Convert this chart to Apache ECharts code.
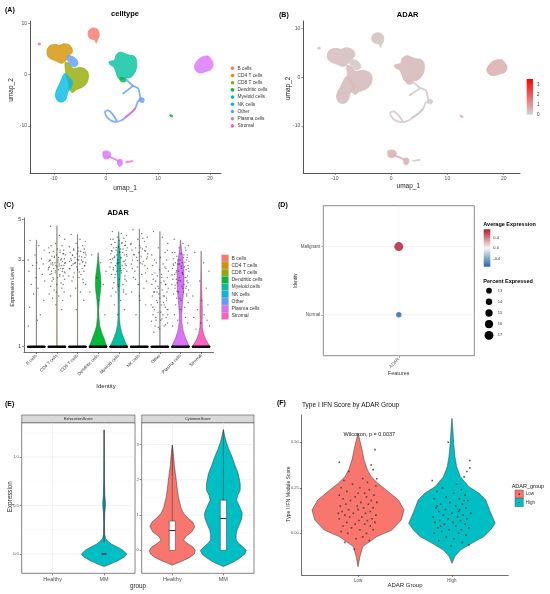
<!DOCTYPE html>
<html><head><meta charset="utf-8">
<script src="https://cdn.jsdelivr.net/npm/echarts@6/dist/echarts.min.js"></script>
<style>html,body{margin:0;padding:0;background:#fff}#c{width:550px;height:594px}</style>
</head><body><div id="c"></div>
<script>
const FONT = '"Liberation Sans", Arial, Helvetica, sans-serif';

// ---------------- DATA ----------------
const cellTypes = ['B cells','CD4 T cells','CD8 T cells','Dendritic cells','Myeloid cells','NK cells','Other','Plasma cells','Stromal'];
const cellColors = ['#F8766D','#D39200','#93AA00','#00BA38','#00C19F','#00B9E3','#619CFF','#DB72FB','#FF61C3'];
const umapXTicks = [-10, 0, 10, 20];
const umapYTicks = [-10, 0, 10];

// UMAP cluster outlines: [cellTypeIndex, [[umap_1, umap_2], ...]]
const umapBlobs = [
  [0, [[-3.4,8.3],[-3.0,8.9],[-2.3,9.1],[-1.6,8.8],[-1.3,8.0],[-1.4,7.2],[-1.7,6.6],[-1.9,6.1],[-2.1,6.7],[-2.7,6.9],[-3.3,7.3]]],
  [0, [[-13.0,5.8],[-12.6,5.8],[-12.6,6.1],[-13.0,6.1]]],
  [1, [[-11.3,4.8],[-10.8,5.6],[-9.8,5.9],[-8.9,5.7],[-8.2,6.0],[-7.3,5.9],[-6.6,5.3],[-6.5,4.3],[-7.2,3.6],[-7.8,2.6],[-8.6,2.2],[-9.5,2.6],[-10.5,3.0],[-11.2,3.6]]],
  [2, [[-7.8,2.4],[-7.0,2.0],[-6.3,1.2],[-5.2,1.4],[-4.2,1.2],[-3.5,0.5],[-3.4,-0.8],[-3.8,-1.8],[-4.6,-2.5],[-5.6,-2.9],[-6.4,-3.5],[-7.0,-2.9],[-7.2,-1.6],[-7.6,-0.4],[-7.8,0.8]]],
  [5, [[-7.9,0.2],[-7.0,-0.6],[-6.4,-1.6],[-6.7,-2.6],[-7.3,-3.4],[-7.6,-4.6],[-8.2,-5.3],[-9.2,-5.2],[-9.7,-4.2],[-9.5,-3.0],[-9.0,-2.0],[-8.6,-1.0]]],
  [6, [[-7.4,3.6],[-6.6,3.6],[-5.6,2.9],[-5.4,2.0],[-6.0,1.5],[-6.8,1.8],[-7.3,2.6]]],
  [4, [[0.6,2.5],[1.6,2.8],[2.0,3.9],[2.8,4.4],[3.6,4.1],[4.4,3.8],[5.4,3.6],[5.9,2.6],[5.8,1.0],[5.3,0.0],[4.7,-0.6],[3.7,-0.7],[3.0,-1.0],[2.3,-0.6],[1.9,0.5],[1.5,1.5],[0.8,1.9]]],
  [3, [[2.7,-0.6],[3.8,-0.8],[3.7,-1.4],[2.8,-1.3]]],
  [3, [[12.3,-7.8],[12.8,-8.0],[12.7,-8.3],[12.2,-8.0]]],
  [6, [[6.5,-4.6],[7.3,-4.7],[7.2,-5.4],[6.5,-5.3]]],
  [7, [[17.2,2.2],[17.8,3.0],[18.6,3.5],[19.6,3.6],[20.2,3.0],[20.6,2.0],[20.2,1.0],[19.2,0.6],[18.2,0.3],[17.4,0.6],[17.0,1.4]]],
  [7, [[-0.5,-15.0],[0.6,-15.0],[0.9,-15.7],[0.4,-16.4],[-0.4,-16.3],[-0.6,-15.6]]],
  [7, [[2.3,-16.7],[3.0,-16.6],[3.1,-17.6],[2.5,-17.9],[2.2,-17.3]]]
];
// UMAP thin trajectories: [cellTypeIndex, [[umap_1, umap_2], ...]]
const umapPaths = [
  [6, [[3.8,-0.8],[4.3,-1.4],[5.2,-2.2],[6.2,-2.7],[6.5,-4.0],[6.6,-4.7],[6.1,-5.3],[5.6,-6.6],[4.3,-7.9],[3.0,-8.9],[1.7,-9.2],[0.45,-8.6],[-0.2,-7.3],[0.45,-7.0],[1.4,-7.9],[2.05,-9.0]]],
  [6, [[5.2,-2.2],[3.3,-3.7]]],
  [8, [[5.6,-6.6],[5.0,-7.3],[4.3,-7.9],[3.8,-8.2]]],
  [7, [[0.5,-16.0],[1.5,-16.4],[2.5,-16.9]]],
  [8, [[3.9,-17.1],[5.1,-16.9]]]
];
// panel B: average visible ADAR level per cluster
const adarClusterMean = [0.28, 0.34, 0.38, 0.45, 0.42, 0.38, 0.15, 0.55, 0.22];
const adarScaleTicks = [0, 1, 2, 3];
const adarScaleMax = 3.6;

// panel C: violin profiles [expression, half width (fraction of category)]
const cViolins = [
  [[1,0.43],[1.008,0.03],[1.02,0.008],[3.87,0.003]],
  [[1,0.43],[1.008,0.03],[1.02,0.008],[4.63,0.003]],
  [[1,0.43],[1.008,0.03],[1.02,0.008],[4.16,0.003]],
  [[1,0.44],[1.05,0.36],[1.11,0.29],[1.2,0.17],[1.3,0.08],[1.45,0.04],[1.6,0.03],[1.8,0.06],[2.0,0.11],[2.2,0.14],[2.45,0.12],[2.7,0.07],[3.0,0.03],[3.29,0.004]],
  [[1,0.44],[1.05,0.34],[1.12,0.24],[1.2,0.14],[1.3,0.07],[1.45,0.035],[1.7,0.03],[2.0,0.04],[2.4,0.07],[2.8,0.09],[3.2,0.07],[3.6,0.04],[4.0,0.015],[4.3,0.003]],
  [[1,0.43],[1.008,0.03],[1.02,0.008],[4.45,0.003]],
  [[1,0.43],[1.008,0.03],[1.02,0.008],[4.3,0.003]],
  [[1,0.44],[1.05,0.35],[1.12,0.24],[1.22,0.13],[1.35,0.07],[1.5,0.06],[1.7,0.09],[1.9,0.13],[2.1,0.16],[2.4,0.17],[2.7,0.16],[3.0,0.12],[3.3,0.07],[3.6,0.03],[3.87,0.004]],
  [[1,0.44],[1.05,0.32],[1.1,0.22],[1.18,0.12],[1.28,0.06],[1.4,0.05],[1.55,0.06],[1.75,0.05],[2.0,0.035],[2.4,0.02],[2.8,0.01],[3.36,0.003]]
];
const cYTicks = [1, 3, 5];
// jitter offsets (fraction of category) and expressed values per cell type
const cJitterOffsets = [-0.31,0.12,0.38,-0.07,0.25,-0.4,0.02,0.33,-0.18,0.15,-0.36,0.29,-0.02,0.41,-0.25,0.08,-0.13,0.36,-0.33,0.19,0.05,-0.39,0.27,-0.1,0.4,-0.22,0.11,-0.29,0.34,-0.05,0.22,-0.37,0.0,0.31,-0.16,0.17,-0.42,0.07,0.26,-0.27,0.39,-0.09,0.14,-0.34,0.3,-0.19,0.03,0.37,-0.24,0.2,-0.01,-0.3,0.24,-0.14,0.35,-0.38,0.09,-0.21,0.28,-0.06,
  -0.28,0.16,0.32,-0.12,0.21,-0.35,0.04,0.38,-0.2,0.1,-0.41,0.27,-0.08,0.36,-0.26,0.13,-0.17,0.3,-0.03,0.23];
const cJitterValues = [
  [3.85,3.6,3.4,3.2,3.05,3.0,2.9,2.85,2.8,2.7,2.6,2.5,2.4,2.3,2.2,2.1,1.95,1.8,1.65,1.5,1.4,1.3],
  [4.6,4.1,3.9,3.7,3.6,3.5,3.45,3.4,3.35,3.3,3.3,3.25,3.2,3.2,3.15,3.1,3.1,3.05,3.0,3.0,3.0,2.95,2.95,2.9,2.9,2.9,2.85,2.85,2.8,2.8,2.8,2.75,2.75,2.7,2.7,2.7,2.65,2.65,2.6,2.6,2.55,2.55,2.5,2.5,2.45,2.4,2.4,2.35,2.3,2.25,2.2,2.15,2.1,2.05,2.0,1.95,1.9,1.85,1.8,1.7,
   3.6,3.4,3.25,3.15,3.05,2.98,2.92,2.88,2.82,2.78,2.72,2.68,2.62,2.58,2.52,2.45,2.35,2.2,2.0,1.6],
  [4.15,3.9,3.8,3.7,3.6,3.55,3.5,3.45,3.4,3.35,3.3,3.3,3.25,3.2,3.2,3.15,3.1,3.1,3.05,3.0,3.0,2.95,2.95,2.9,2.9,2.85,2.85,2.8,2.8,2.75,2.7,2.7,2.65,2.6,2.55,2.5,2.45,2.4,2.35,2.3,2.2,2.1,2.0,1.9,1.8,
   3.45,3.35,3.28,3.18,3.12,3.02,2.98,2.92,2.88,2.78,2.68,2.58,2.42,2.25,1.6],
  [3.2,2.9,2.6,2.4,2.2,2.0,1.8,1.5],
  [4.3,4.2,4.1,4.0,3.95,3.9,3.85,3.8,3.75,3.7,3.65,3.6,3.55,3.5,3.5,3.45,3.4,3.4,3.35,3.3,3.3,3.25,3.2,3.2,3.15,3.1,3.1,3.05,3.0,3.0,2.95,2.9,2.9,2.85,2.8,2.8,2.75,2.7,2.7,2.65,2.6,2.6,2.55,2.5,2.45,2.4,2.35,2.3,2.25,2.2,2.15,2.1,2.05,2.0,1.95,1.9,1.8,1.7,1.6,1.5,
   3.9,3.75,3.62,3.52,3.45,3.38,3.32,3.22,3.15,3.08,3.02,2.95,2.88,2.8,2.72,2.62,2.5,2.35,2.2,2.0],
  [4.4,4.2,4.0,3.9,3.8,3.7,3.6,3.55,3.5,3.45,3.4,3.35,3.3,3.25,3.2,3.15,3.1,3.05,3.0,2.95,2.9,2.85,2.8,2.75,2.7,2.6,2.5,2.4,2.3,2.2,2.1,2.0,1.9,1.7,1.5,
   3.95,3.65,3.5,3.38,3.22,3.12,2.98,2.85,2.7,2.55,2.35,1.8],
  [4.3,4.0,3.7,3.5,3.3,3.2,3.1,3.0,2.9,2.85,2.8,2.7,2.65,2.6,2.55,2.5,2.45,2.4,2.35,2.3,2.25,2.2,2.2,2.15,2.1,2.1,2.05,2.0,2.0,1.95,1.9,1.9,1.85,1.8,1.8,1.75,1.7,1.7,1.65,1.6,1.6,1.55,1.5,1.5,1.45,1.4,1.4,1.35,1.3,1.3,1.25,1.2,2.75,2.0,1.6,
   2.5,2.4,2.3,2.2,2.1,2.0,1.9,1.85,1.75,1.7,1.65,1.55,1.5,1.45,1.42,1.38,1.32,1.28,3.4,3.0],
  [3.9,3.7,3.6,3.5,3.4,3.3,3.25,3.2,3.15,3.1,3.05,3.0,3.0,2.95,2.9,2.9,2.85,2.8,2.8,2.75,2.7,2.7,2.65,2.6,2.6,2.55,2.5,2.5,2.45,2.4,2.4,2.35,2.3,2.3,2.25,2.2,2.2,2.15,2.1,2.1,2.05,2.0,2.0,1.95,1.9,1.85,1.8,1.75,1.7,1.65,1.6,1.5,1.45,1.4,1.35,1.3,2.55,2.35,2.15,2.85,
   3.3,3.2,3.1,3.0,2.92,2.85,2.78,2.7,2.62,2.55,2.48,2.4,2.32,2.25,2.18,2.1,2.02,1.95,1.85,3.5],
  [3.3,2.9,2.6,2.3,2.1,1.9,1.8,1.7,1.6,1.5,1.45,1.4,1.35,1.3,1.25]
];

// panel D
const dotIdentity = ['Normal', 'Malignant'];
const dotFeature = ['ADAR'];
const dotAvgExpr = [-0.707, 0.707];
const dotPctExpr = [12.6, 17.2];
const avgExprTicks = [0.4, 0.0, -0.4];
const pctLegendBreaks = [13, 14, 15, 16, 17];

// panel E
const eGroups = ['Healthy', 'MM'];
const eFacets = ['ExhaustionScore', 'CytotoxicScore'];
const eGroupColors = ['#F8766D', '#00BFC4'];
const e1Ticks = [0, 0.5, 1.0];
const e2Ticks = [0, 1, 2, 3];
const exhaustionMM = [[-0.13,0],[-0.11,0.1],[-0.07,0.27],[-0.03,0.4],[0,0.44],[0.04,0.36],[0.076,0.24],[0.1,0.15],[0.127,0.08],[0.16,0.03],[0.2,0.012],[0.3,0.008],[0.42,0.012],[0.48,0.025],[0.53,0.028],[0.6,0.015],[0.7,0.01],[0.8,0.006],[1.0,0.004],[1.28,0]];
const cytotoxicHealthy = [[-0.42,0],[-0.38,0.06],[-0.3,0.2],[-0.2,0.34],[-0.1,0.43],[0,0.45],[0.1,0.4],[0.2,0.29],[0.29,0.22],[0.4,0.27],[0.52,0.38],[0.67,0.44],[0.8,0.4],[0.92,0.3],[1.05,0.22],[1.2,0.17],[1.33,0.15],[1.5,0.12],[1.7,0.1],[1.95,0.08],[2.18,0.06],[2.4,0.04],[2.65,0.027],[2.85,0.012],[2.98,0]];
const cytotoxicMM = [[-0.46,0],[-0.42,0.06],[-0.33,0.2],[-0.2,0.34],[-0.1,0.42],[0,0.45],[0.1,0.38],[0.2,0.3],[0.29,0.25],[0.45,0.25],[0.58,0.27],[0.75,0.32],[0.9,0.36],[1.05,0.37],[1.2,0.33],[1.42,0.26],[1.55,0.28],[1.7,0.33],[1.9,0.33],[2.18,0.29],[2.4,0.23],[2.65,0.17],[2.85,0.11],[3.05,0.06],[3.25,0.025],[3.42,0]];
// boxes: [group, q1, median, q3, upper whisker, outlier min, outlier max]
const exhaustionBoxes = [[1, 0, 0, 0, 0, 0.12, 1.28]];
const cytotoxicBoxes = [[0, 0, 0.56, 0.83, 2.08, 2.1, 2.98], [1, 0, 0.9, 1.42, 3.42, 3.42, 3.42]];

// panel F
const fGroups = ['Low', 'High'];
const fTicks = [0, 0.25, 0.5];
const ifnLowViolin = [[-0.183,0],[-0.128,0.02],[-0.073,0.05],[-0.018,0.2],[0.018,0.36],[0.073,0.46],[0.128,0.49],[0.183,0.43],[0.238,0.3],[0.275,0.21],[0.311,0.14],[0.348,0.1],[0.403,0.064],[0.458,0.043],[0.513,0.018],[0.55,0]];
const ifnHighViolin = [[-0.165,0],[-0.128,0.03],[-0.092,0.09],[-0.055,0.21],[-0.018,0.34],[0.018,0.41],[0.055,0.46],[0.092,0.43],[0.128,0.4],[0.183,0.36],[0.22,0.29],[0.256,0.18],[0.311,0.09],[0.366,0.05],[0.421,0.032],[0.495,0.018],[0.568,0.01],[0.632,0]];
const ifnLowPoints = [[-0.2,0.39],[0.18,0.46],[0.14,0.375],[0.16,0.35],[-0.04,-0.088],[-0.1,0.34],[0.05,0.3],[-0.15,0.29],[0.1,0.28],[-0.06,0.27],[0.19,0.26],[-0.18,0.25],[0.02,0.25],[0.12,0.24],[-0.12,0.23],[0.07,0.22],[-0.2,0.21],[0.17,0.21],[-0.03,0.2],[0.09,0.2],[-0.16,0.19],[0.14,0.18],[-0.08,0.18],[0.03,0.17],[0.2,0.17],[-0.13,0.16],[0.11,0.16],[-0.01,0.15],[-0.19,0.15],[0.06,0.14],[0.16,0.14],[-0.1,0.13],[0.0,0.13],[0.13,0.12],[-0.17,0.12],[0.08,0.11],[-0.05,0.11],[0.19,0.1],[-0.14,0.1],[0.04,0.09],[-0.09,0.09],[0.15,0.08],[-0.2,0.08],[0.01,0.07],[0.1,0.07],[-0.12,0.06],[0.18,0.06],[-0.03,0.05],[0.07,0.05],[-0.16,0.04],[0.13,0.04],[-0.07,0.03],[0.02,0.02],[0.16,0.02],[-0.18,0.01],[0.09,0.0],[-0.11,0.0],[0.05,-0.02],[-0.02,-0.03],[0.12,-0.04],[-0.14,-0.05],[0.2,0.3],[-0.21,0.11],[0.0,0.22]];
const ifnHighPoints = [[-0.04,0.5],[0.19,0.4],[0.16,0.34],[0.13,0.31],[0.19,0.36],[0.18,-0.064],[-0.21,0.29],[0.05,0.27],[-0.1,0.25],[0.1,0.24],[-0.16,0.23],[0.02,0.22],[0.14,0.21],[-0.06,0.2],[0.08,0.19],[-0.19,0.19],[0.17,0.18],[-0.02,0.17],[-0.12,0.16],[0.11,0.16],[0.04,0.15],[-0.17,0.14],[0.15,0.14],[-0.07,0.13],[0.07,0.12],[-0.14,0.12],[0.2,0.11],[0.0,0.11],[-0.09,0.1],[0.12,0.1],[-0.2,0.09],[0.06,0.09],[-0.04,0.08],[0.16,0.08],[-0.13,0.07],[0.09,0.07],[0.01,0.06],[-0.18,0.06],[0.14,0.05],[-0.08,0.05],[0.04,0.04],[-0.15,0.03],[0.18,0.03],[-0.03,0.02],[0.1,0.02],[-0.11,0.01],[0.07,0.0],[-0.19,0.0],[0.15,-0.01],[-0.06,-0.02],[0.02,-0.03],[-0.14,-0.04],[0.11,-0.05],[-0.01,-0.07],[0.08,0.13],[-0.12,0.04],[0.13,0.18],[-0.16,0.15]];
const wilcoxLabel = 'Wilcoxon, p = 0.0037';

// ---------------- HELPERS ----------------
function hex2rgb(h){return [parseInt(h.slice(1,3),16),parseInt(h.slice(3,5),16),parseInt(h.slice(5,7),16)];}
function mix(a,b,t){const A=hex2rgb(a),B=hex2rgb(b);return 'rgb('+A.map((v,i)=>Math.round(v+(B[i]-v)*t)).join(',')+')';}
function adarColor(v){return mix('#d3d3d3','#ff0000',Math.max(0,Math.min(1,v/adarScaleMax)));}
function rdbu(v){const t=(v+0.707)/1.414; return t<0.5?mix('#2166ac','#f7f7f7',t*2):mix('#f7f7f7','#b2182b',(t-0.5)*2);}
function pctSize(p){return 5.4+(p-12.6)*0.78;}

function valAxis(grid, min, max, ticks, fmt, o){
  o = o || {};
  return {type:'value', gridIndex:grid, min, max,
    axisLine:{show:o.line!==false, onZero:false, lineStyle:{color:o.lineColor||'#333', width:o.lineWidth||0.7}},
    axisTick:{show:true, customValues:ticks, length:2, lineStyle:{color:o.lineColor||'#333', width:0.6}},
    axisLabel:{show:true, customValues:ticks, formatter:fmt, fontSize:o.fs||5, color:o.labelColor||'#4d4d4d', margin:o.margin||3, rotate:o.rotate||0, fontFamily:FONT},
    splitLine:{show:false}};
}
function gridLines(ai, vals, dir, color, w){
  return {type:'custom', xAxisIndex:ai, yAxisIndex:ai, silent:true, z:1, data:vals.map(v=>[v]),
    renderItem:(params, api)=>{
      const cs = params.coordSys, v = vals[params.dataIndex];
      if (dir==='h'){ const y = api.coord([0, v])[1]; return {type:'line', shape:{x1:cs.x,y1:y,x2:cs.x+cs.width,y2:y}, style:{stroke:color,lineWidth:w}}; }
      const x = api.coord([v, 0])[0]; return {type:'line', shape:{x1:x,y1:cs.y,x2:x,y2:cs.y+cs.height}, style:{stroke:color,lineWidth:w}};
    }};
}
function violins(ai, profiles, centers, fills, tf, stroke, lw){
  return {type:'custom', xAxisIndex:ai, yAxisIndex:ai, silent:true, z:2, data:profiles.map((p,i)=>[centers[i], 0]),
    renderItem:(params, api)=>{
      const i = params.dataIndex, c = centers[i], prof = profiles[i];
      const L = prof.map(([v,w])=>api.coord([c-w, tf(v)]));
      const R = prof.map(([v,w])=>api.coord([c+w, tf(v)])).reverse();
      return {type:'polygon', shape:{points:L.concat(R)}, style:{fill:fills[i], stroke:stroke, lineWidth:lw}};
    }};
}
function boxes(ai, list, hw){
  return {type:'custom', xAxisIndex:ai, yAxisIndex:ai, silent:true, z:3, data:list.map(b=>[b[0], b[2]]),
    renderItem:(params, api)=>{
      const [c,q1,med,q3,wh,omin,omax] = list[params.dataIndex];
      const p1 = api.coord([c-hw, q3]), p2 = api.coord([c+hw, q1]);
      const m1 = api.coord([c-hw, med]), m2 = api.coord([c+hw, med]);
      const t = api.coord([c, q3]), w = api.coord([c, wh]), o1 = api.coord([c, omin]), o2 = api.coord([c, omax]);
      const st = {stroke:'#333', lineWidth:0.5};
      return {type:'group', children:[
        {type:'line', shape:{x1:t[0],y1:t[1],x2:w[0],y2:w[1]}, style:st},
        {type:'line', shape:{x1:o1[0],y1:o1[1],x2:o2[0],y2:o2[1]}, style:{stroke:'#333', lineWidth:0.7}},
        {type:'rect', shape:{x:p1[0], y:p1[1], width:p2[0]-p1[0], height:Math.max(0.01,p2[1]-p1[1])}, style:{fill:'#fff', stroke:'#333', lineWidth:0.5}},
        {type:'line', shape:{x1:m1[0],y1:m1[1],x2:m2[0],y2:m2[1]}, style:{stroke:'#222', lineWidth:1}}
      ]};
    }};
}
function umapSeries(ai, colorFn, op){
  return [
    {type:'custom', xAxisIndex:ai, yAxisIndex:ai, silent:true, z:2, data:umapBlobs.map(b=>b[1][0]),
      renderItem:(params, api)=>{
        const b = umapBlobs[params.dataIndex], col = colorFn(b[0]);
        return {type:'polygon', shape:{points:b[1].map(p=>api.coord(p)), smooth:0.35}, style:{fill:col, stroke:col, lineWidth:0.8, opacity:op}};
      }},
    {type:'custom', xAxisIndex:ai, yAxisIndex:ai, silent:true, z:3, data:umapPaths.map(b=>b[1][0]),
      renderItem:(params, api)=>{
        const b = umapPaths[params.dataIndex], col = colorFn(b[0]);
        return {type:'polyline', shape:{points:b[1].map(p=>api.coord(p)), smooth:0.3}, style:{stroke:col, lineWidth:1.8, lineCap:'round', lineJoin:'round', fill:null, opacity:op}};
      }}
  ];
}
function T(x, y, text, size, o){
  o = o || {};
  const al = o.align || 'center';
  return {type:'text', x:x, y:y, rotation:o.rot||0, silent:true, z:10,
    style:{text:text, fontSize:size, fontFamily:FONT, fontWeight:o.bold?'bold':'normal', fill:o.color||'#000', align:al, verticalAlign:'middle', textAlign:al, textVerticalAlign:'middle'}};
}

// ---------------- BUILD ----------------
const grids = [
  {left:30, top:21, width:191, height:152},          // A
  {left:303.3, top:21, width:216.7, height:152},     // B
  {left:24, top:218, width:189.5, height:134},       // C
  {left:323.3, top:205.7, width:151, height:150, show:true, borderColor:'#8c8c8c', borderWidth:1}, // D
  {left:21.7, top:422.7, width:113.3, height:150.6, show:true, borderColor:'#333', borderWidth:0.6}, // E1
  {left:141.7, top:422.7, width:112.3, height:150.6, show:true, borderColor:'#333', borderWidth:0.6}, // E2
  {left:301.7, top:415, width:206.6, height:160}      // F
];
const idx = a => a.map((_,i)=>i);
const xAxis = [
  valAxis(0, -14.6, 22.1, umapXTicks, v=>v, {lineColor:'#555', lineWidth:1}),
  valAxis(1, -15.6, 22.9, umapXTicks, v=>v, {lineColor:'#555', lineWidth:1}),
  valAxis(2, -0.6, 8.6, idx(cellTypes), v=>cellTypes[Math.round(v)], {rotate:45, fs:4.5, labelColor:'#333'}),
  valAxis(3, -0.6, 0.6, idx(dotFeature), v=>dotFeature[Math.round(v)], {line:false, rotate:45, fs:4.5, lineColor:'#777'}),
  valAxis(4, -0.6, 1.6, idx(eGroups), v=>eGroups[Math.round(v)], {line:false, fs:5.5}),
  valAxis(5, -0.6, 1.6, idx(eGroups), v=>eGroups[Math.round(v)], {line:false, fs:5.5}),
  valAxis(6, -0.6, 1.6, idx(fGroups), v=>fGroups[Math.round(v)], {fs:4.5})
];
const yAxis = [
  valAxis(0, -19.2, 10.45, umapYTicks, v=>v, {lineColor:'#555', lineWidth:1}),
  valAxis(1, -19.6, 11.5, umapYTicks, v=>v, {lineColor:'#555', lineWidth:1}),
  valAxis(2, -0.067, 1.631, cYTicks.map(Math.log), v=>String(Math.round(Math.exp(v))), {fs:5, labelColor:'#333'}),
  valAxis(3, -0.6, 1.6, idx(dotIdentity), v=>dotIdentity[Math.round(v)], {line:false, fs:4.5, lineColor:'#777'}),
  valAxis(4, -0.2, 1.354, e1Ticks, v=>v.toFixed(1), {line:false, fs:4}),
  valAxis(5, -0.65, 3.615, e2Ticks, v=>String(v), {line:false, fs:4}),
  valAxis(6, -0.229, 0.65, fTicks, v=>v.toFixed(2), {fs:4})
];

const series = [];
// A & B
series.push(...umapSeries(0, i=>cellColors[i], 0.8));
series.push(...umapSeries(1, i=>adarColor(adarClusterMean[i]), 0.9));
// C
series.push(violins(2, cViolins, idx(cellTypes), cellColors, Math.log, '#555', 0.45));
const cZero = [], cPts = [];
cellTypes.forEach((_,ci)=>cJitterOffsets.forEach(o=>cZero.push([ci+o, 0])));
cJitterValues.forEach((vals,ci)=>vals.forEach((v,k)=>cPts.push([ci+cJitterOffsets[k%cJitterOffsets.length], Math.log(v)])));
series.push({type:'scatter', xAxisIndex:2, yAxisIndex:2, silent:true, z:4, data:cPts, symbolSize:1.4, itemStyle:{color:'#222', opacity:0.65}});
series.push({type:'scatter', xAxisIndex:2, yAxisIndex:2, silent:true, z:4, data:cZero, symbolSize:1.7, itemStyle:{color:'#000'}});
// D
series.push(gridLines(3, [0,1], 'h', '#ececec', 0.6), gridLines(3, [0], 'v', '#ececec', 0.6));
series.push({type:'scatter', xAxisIndex:3, yAxisIndex:3, silent:true, z:4,
  data:dotIdentity.map((n,i)=>[0, i, dotAvgExpr[i], dotPctExpr[i]]),
  symbolSize:v=>pctSize(v[3]), itemStyle:{color:p=>rdbu(p.value[2])}});
// E
series.push(gridLines(4, [0.25,0.75,1.25], 'h', '#f2f2f2', 0.4), gridLines(4, e1Ticks, 'h', '#e6e6e6', 0.6), gridLines(4, [0,1], 'v', '#e6e6e6', 0.6));
series.push(gridLines(5, [-0.5,0.5,1.5,2.5,3.5], 'h', '#f2f2f2', 0.4), gridLines(5, e2Ticks, 'h', '#e6e6e6', 0.6), gridLines(5, [0,1], 'v', '#e6e6e6', 0.6));
series.push(violins(4, [exhaustionMM], [1], [eGroupColors[1]], v=>v, '#333', 0.5));
series.push(violins(5, [cytotoxicHealthy, cytotoxicMM], [0,1], eGroupColors, v=>v, '#333', 0.5));
series.push(boxes(4, exhaustionBoxes, 0.045), boxes(5, cytotoxicBoxes, 0.06));
// F
series.push(violins(6, [ifnLowViolin, ifnHighViolin], [0,1], eGroupColors, v=>v, '#333', 0.5));
series.push({type:'scatter', xAxisIndex:6, yAxisIndex:6, silent:true, z:4, symbol:'rect', symbolSize:1.6, itemStyle:{color:'#333', opacity:0.8},
  data: ifnLowPoints.map(p=>[0+p[0], p[1]]).concat(ifnHighPoints.map(p=>[1+p[0], p[1]]))});

// ---------------- TEXT / LEGENDS ----------------
const g = [];
g.push(T(5,10,'(A)',7,{bold:true,align:'left'}), T(279,15,'(B)',7,{bold:true,align:'left'}),
       T(4,205,'(C)',7,{bold:true,align:'left'}), T(278,205,'(D)',7,{bold:true,align:'left'}),
       T(5,404,'(E)',7,{bold:true,align:'left'}), T(277,403,'(F)',7,{bold:true,align:'left'}));
// A
g.push(T(125,14,'celltype',7.5,{bold:true}), T(125,188.3,'umap_1',6.5,{color:'#222'}), T(11.7,90,'umap_2',6.5,{rot:Math.PI/2,color:'#222'}));
cellTypes.forEach((n,i)=>{
  g.push({type:'circle', shape:{cx:232.5, cy:68.3+7.2*i, r:1.8}, style:{fill:cellColors[i]}, silent:true});
  g.push(T(237.5, 68.3+7.2*i, n, 4.8, {align:'left', color:'#333'}));
});
// B
g.push(T(407.7,15,'ADAR',7.5,{bold:true}), T(408.3,186.7,'umap_1',6.5,{color:'#222'}), T(288.3,88.3,'umap_2',6.5,{rot:Math.PI/2,color:'#222'}));
const cbTop = 79, cbBot = 114.7;
g.push({type:'rect', shape:{x:526.7, y:cbTop, width:6.3, height:cbBot-cbTop}, silent:true,
  style:{fill:{type:'linear', x:0, y:0, x2:0, y2:1, colorStops:[{offset:0,color:adarColor(adarScaleMax)},{offset:1,color:adarColor(0)}]}}});
adarScaleTicks.forEach(t=>g.push(T(537, cbBot-(cbBot-cbTop)*t/adarScaleMax, String(t), 4.5, {align:'left', color:'#333'})));
// C
g.push(T(118,212.7,'ADAR',7.5,{bold:true}), T(12.5,287,'Expression Level',5.2,{rot:Math.PI/2,color:'#222'}), T(106,386,'Identity',6,{color:'#222'}));
cellTypes.forEach((n,i)=>{
  g.push({type:'rect', shape:{x:221.7, y:258.3+7.2*i-3.4, width:6.7, height:6.8}, style:{fill:cellColors[i], stroke:'#999', lineWidth:0.4}, silent:true});
  g.push(T(231.5, 258.3+7.2*i, n, 5, {align:'left', color:'#333'}));
});
// D
g.push(T(295.7,280.7,'Identity',4.5,{rot:Math.PI/2,color:'#333'}), T(398.7,373.3,'Features',5.5,{color:'#333'}));
g.push(T(483.3,224,'Average Expression',5.5,{bold:true,align:'left'}));
const dTop = 229.3, dBot = 266.7;
g.push({type:'rect', shape:{x:483.7, y:dTop, width:6.6, height:dBot-dTop}, silent:true,
  style:{fill:{type:'linear', x:0, y:0, x2:0, y2:1, colorStops:[{offset:0,color:rdbu(0.707)},{offset:0.5,color:rdbu(0)},{offset:1,color:rdbu(-0.707)}]}}});
avgExprTicks.forEach(t=>g.push(T(493.3, dTop+(0.716-t)/1.411*(dBot-dTop), t.toFixed(1), 4, {align:'left', color:'#333'})));
g.push(T(483.3,281,'Percent Expressed',5.5,{bold:true,align:'left'}));
pctLegendBreaks.forEach((p,i)=>{
  const cy = 290.7 + 11.15*i;
  g.push({type:'circle', shape:{cx:489, cy:cy, r:pctSize(p)/2}, style:{fill:'#000'}, silent:true});
  g.push(T(497.7, cy, String(p), 4, {align:'left', color:'#333'}));
});
// E
g.push({type:'rect', shape:{x:21.7, y:415, width:113.3, height:7.7}, style:{fill:'#d9d9d9', stroke:'#333', lineWidth:0.5}, silent:true});
g.push({type:'rect', shape:{x:141.7, y:415, width:112.3, height:7.7}, style:{fill:'#d9d9d9', stroke:'#333', lineWidth:0.5}, silent:true});
g.push(T(78.3,418.9,eFacets[0],3.8,{color:'#1a1a1a'}), T(197.8,418.9,eFacets[1],3.8,{color:'#1a1a1a'}));
g.push(T(10,496.7,'Expression',6.3,{rot:Math.PI/2,color:'#222'}), T(138,586,'group',6.3,{color:'#222'}));
// F
g.push(T(302,405.7,'Type I IFN Score by ADAR Group',6.5,{align:'left',color:'#111'}));
g.push(T(289,494,'Type I IFN Module Score',5,{rot:Math.PI/2,color:'#222'}), T(405,585,'ADAR Group',6,{color:'#222'}));
g.push(T(369.3,434.3,wilcoxLabel,5.5,{color:'#111'}));
g.push(T(511.7,486.7,'ADAR_group',5.5,{align:'left',color:'#111'}));
fGroups.forEach((n,i)=>{
  const y0 = 490 + 8.3*i;
  g.push({type:'rect', shape:{x:515, y:y0, width:8.3, height:8.3}, style:{fill:eGroupColors[i], stroke:'#333', lineWidth:0.4}, silent:true});
  g.push({type:'circle', shape:{cx:519.15, cy:y0+4.15, r:0.8}, style:{fill:'#333'}, silent:true});
  g.push(T(525.7, y0+4.15, n, 4.5, {align:'left', color:'#333'}));
});

const chart = echarts.init(document.getElementById('c'), null, {renderer:'canvas'});
chart.setOption({animation:false, backgroundColor:'#fff', textStyle:{fontFamily:FONT},
  grid:grids, xAxis:xAxis, yAxis:yAxis, series:series, graphic:{elements:g}});
</script></body></html>
